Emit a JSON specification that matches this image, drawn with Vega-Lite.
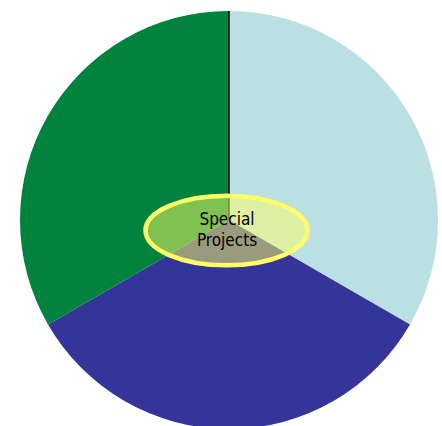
{
  "$schema": "https://vega.github.io/schema/vega-lite/v6.json",
  "width": 418,
  "height": 418,
  "padding": {"left": 20, "top": 9, "right": 4, "bottom": 0},
  "background": "white",
  "view": {"stroke": null},
  "layer": [
    {
      "data": {"values": [
        {"segment": "Light blue", "start": 0, "end": 33.3333},
        {"segment": "Dark blue", "start": 33.3333, "end": 66.6667},
        {"segment": "Green", "start": 66.6667, "end": 100}
      ]},
      "mark": {"type": "arc"},
      "encoding": {
        "theta": {"field": "start", "type": "quantitative", "scale": {"domain": [0, 100], "range": [0, 6.283185307]}},
        "theta2": {"field": "end"},
        "color": {"field": "segment", "type": "nominal", "legend": null,
          "scale": {"domain": ["Light blue", "Dark blue", "Green"], "range": ["#BAE0E3", "#353599", "#00843D"]}}
      }
    },
    {
      "data": {"values": [{"divider": "top", "at": 0}]},
      "mark": {"type": "arc", "fill": null, "stroke": "#000000", "strokeWidth": 1},
      "encoding": {
        "theta": {"field": "at", "type": "quantitative", "scale": {"domain": [0, 100], "range": [0, 6.283185307]}},
        "theta2": {"field": "at"}
      }
    },
    {
      "data": {"values": [{"group": "Special Projects"}]},
      "layer": [
        {
          "mark": {"type": "point", "shape": "M -1 0 A 1 0.43 0 1 0 1 0 A 1 0.43 0 1 0 -1 0 Z", "size": 26244, "filled": true, "fill": "#FFFF66", "fillOpacity": 0.5, "opacity": 1, "stroke": "#FFFF66", "strokeOpacity": 1, "strokeWidth": 4.5, "xOffset": -2.5, "yOffset": 10.5},
          "encoding": {}
        },
        {
          "mark": {"type": "text", "lineBreak": " ", "font": "DejaVu Sans Condensed", "fontSize": 17, "lineHeight": 21, "baseline": "middle", "align": "center", "dx": -2, "dy": 0, "color": "#000000"},
          "encoding": {"text": {"field": "group"}}
        }
      ]
    }
  ]
}
